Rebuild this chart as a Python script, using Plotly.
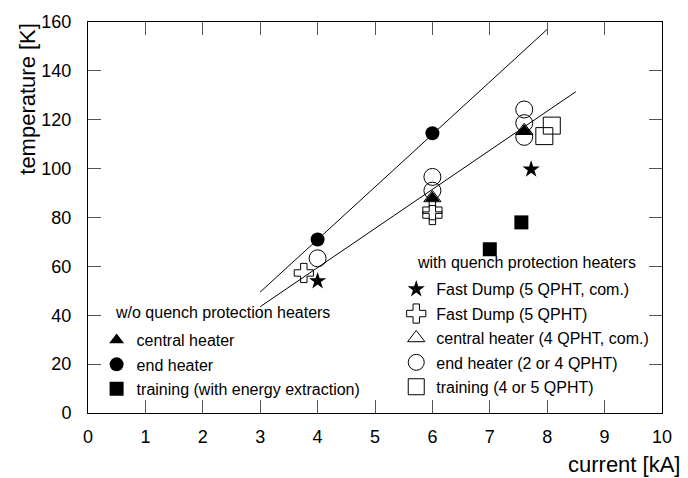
import numpy as np
import plotly.graph_objects as go

# ---- data (current in kA, temperature in K) ----
central_x = [6.0, 7.6]
central_y = [88, 115.5]

end_x = [4.0, 6.0]
end_y = [71, 114.5]

training_ee_x = [7.0, 7.55]
training_ee_y = [67, 78]

fd_com_x = [4.0, 7.72]
fd_com_y = [54, 99.7]

fd_x = [3.76, 6.0, 6.0]
fd_y = [57.3, 83, 81]

central_q_x = [6.0, 7.6]
central_q_y = [88, 115.5]

end_q_x = [4.0, 6.0, 6.0, 7.6, 7.6, 7.6]
end_q_y = [63.3, 96.6, 91, 124.2, 118.6, 113]

training_q_x = [7.95, 8.08]
training_q_y = [113.3, 117.6]

# linear fits: (slope, intercept, x range)
fit_steep = (21.5, -15.0, [3.0, 8.0])
fit_flat = (16.0, -4.5, [3.0, 8.5])

xticks = list(range(0, 11))
yticks = list(range(0, 161, 20))

FONT = "Liberation Sans, Arial, Helvetica, sans-serif"
BLK = "black"

fig = go.Figure()

for slope, icpt, xr in (fit_steep, fit_flat):
    xs = np.array(xr)
    fig.add_trace(go.Scatter(x=xs, y=slope * xs + icpt, mode="lines",
                             line=dict(color=BLK, width=1), showlegend=False,
                             hoverinfo="skip"))

def add(x, y, name, symbol, size, legend, rank, open_=False):
    marker = dict(symbol=symbol, size=size, color=BLK)
    if open_:
        marker["line"] = dict(color="#222", width=1)
    else:
        marker["line"] = dict(width=0)
    fig.add_trace(go.Scatter(x=x, y=y, mode="markers", name=name, marker=marker,
                             legend=legend, legendrank=rank, legendgroup=name))

# drawing order (bottom to top)
add(central_q_x, central_q_y, "central heater (4 QPHT, com.)", "triangle-up-open", 15, "legend2", 13, True)
add(fd_x, fd_y, "Fast Dump (5 QPHT)", "cross-open", 16, "legend2", 12, True)
add(end_q_x, end_q_y, "end heater (2 or 4 QPHT)", "circle-open", 17, "legend2", 14, True)
add(training_q_x, training_q_y, "training (4 or 5 QPHT)", "square-open", 17, "legend2", 15, True)
add(fd_com_x, fd_com_y, "Fast Dump (5 QPHT, com.)", "star", 13, "legend2", 11)
add(central_x, central_y, "central heater", "triangle-up", 13, "legend", 1)
add(end_x, end_y, "end heater", "circle", 14, "legend", 2)
add(training_ee_x, training_ee_y, "training (with energy extraction)", "square", 14, "legend", 3)

axis_common = dict(showgrid=False, zeroline=False, showline=True, linecolor=BLK,
                   linewidth=1, mirror="ticks", ticks="inside", ticklen=13,
                   tickcolor="#555", tickwidth=1,
                   tickfont=dict(family=FONT, size=18, color=BLK))

fig.update_xaxes(range=[0, 10], tickvals=xticks, ticklabelstandoff=7, **axis_common)
fig.update_yaxes(range=[0, 160], tickvals=yticks, ticklabelstandoff=12, **axis_common)

leg_common = dict(bgcolor="rgba(0,0,0,0)", borderwidth=0, xanchor="left", yanchor="top",
                  font=dict(family=FONT, size=16, color=BLK), itemsizing="trace",
                  tracegroupgap=0.6)

fig.update_layout(
    width=688, height=478,
    margin=dict(l=88, r=26, t=13, b=65),
    paper_bgcolor="white", plot_bgcolor="white",
    font=dict(family=FONT, color=BLK),
    legend=dict(x=0.015, y=0.23, **leg_common),
    legend2=dict(x=0.537, y=0.36, **leg_common),
    annotations=[
        dict(text="temperature [K]", xref="paper", yref="paper", x=-0.1054, y=0.8025,
             xanchor="center", yanchor="middle", textangle=-90, showarrow=False,
             font=dict(family=FONT, size=22, color=BLK)),
        dict(text="current [kA]", xref="paper", yref="paper", x=1.0348, y=-0.1325,
             xanchor="right", yanchor="middle", showarrow=False,
             font=dict(family=FONT, size=22, color=BLK)),
        dict(text="w/o quench protection heaters", xref="paper", yref="paper",
             x=0.0436, y=0.2575, xanchor="left", yanchor="middle", showarrow=False,
             font=dict(family=FONT, size=16, color=BLK)),
        dict(text="with quench protection heaters", xref="paper", yref="paper",
             x=0.5697, y=0.384, xanchor="left", yanchor="middle", showarrow=False,
             font=dict(family=FONT, size=16, color=BLK)),
    ],
)

fig.write_html("out.html")
